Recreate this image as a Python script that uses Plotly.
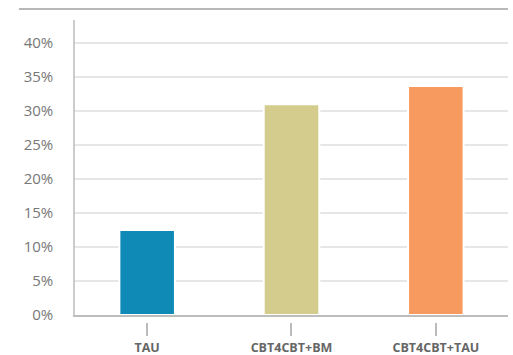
import plotly.graph_objects as go

categories = ["TAU", "CBT4CBT+BM", "CBT4CBT+TAU"]
values = [0.125, 0.310, 0.337]
colors = ["#0f89b5", "#d3cc8d", "#f79a5f"]
y_ticks = [0, 0.05, 0.10, 0.15, 0.20, 0.25, 0.30, 0.35, 0.40]

ticktext = ["<b>%s</b>" % c for c in categories]
x_dom = [0.1145, 1]

fig = go.Figure()
fig.add_trace(go.Bar(
    x=categories, y=values,
    marker=dict(color=colors, line=dict(color="white", width=2)),
    width=0.385, hoverinfo="x+y",
))
# invisible helper traces so the tick-mark axis and the top rule are drawn
fig.add_trace(go.Scatter(
    x=[0, 1, 2], y=[0, 0, 0], xaxis="x2", yaxis="y",
    mode="markers", marker=dict(opacity=0), hoverinfo="skip",
))
fig.add_trace(go.Scatter(
    x=[0, 1], y=[0, 0], xaxis="x3", yaxis="y3",
    mode="markers", marker=dict(opacity=0), hoverinfo="skip",
))

fig.update_layout(
    width=513, height=355,
    margin=dict(l=19, r=5, t=9, b=33, autoexpand=False),
    paper_bgcolor="white", plot_bgcolor="rgba(0,0,0,0)",
    showlegend=False,
    font=dict(family="Open Sans, sans-serif", color="#777777"),
    xaxis=dict(
        domain=x_dom,
        tickvals=categories, ticktext=ticktext,
        tickfont=dict(size=12.5, color="#666666"),
        showline=True, linecolor="#bdbdbd", linewidth=2,
        showgrid=False, ticks="", ticklabelstandoff=20,
        range=[-0.5, 2.5], automargin=False,
    ),
    xaxis2=dict(
        domain=x_dom, overlaying="x", anchor="free", position=0,
        range=[-0.5, 2.5], tickvals=[0, 1, 2],
        showticklabels=False, showgrid=False, showline=False, zeroline=False,
        ticks="outside", ticklen=13, tickwidth=1.5, tickcolor="#bbbbbb",
        automargin=False,
    ),
    xaxis3=dict(
        domain=[0, 1], anchor="free", position=1,
        range=[0, 1], showticklabels=False, showgrid=False, zeroline=False,
        showline=True, linecolor="#b8b8b8", linewidth=1.5, ticks="",
        automargin=False,
    ),
    yaxis3=dict(
        domain=[0.98, 1], anchor="x3", visible=False, range=[0, 1],
        showgrid=False, zeroline=False, automargin=False,
    ),
    yaxis=dict(
        domain=[0.0224, 0.9649],
        range=[0, 0.434], tickvals=y_ticks, tickformat=".0%",
        tickfont=dict(size=15, color="#777777"),
        showgrid=True, gridcolor="#e6e6e6", gridwidth=1.5,
        showline=True, linecolor="#cccccc", linewidth=1.5,
        zeroline=False, ticks="", ticklabelstandoff=17, automargin=False,
    ),
)

fig.write_html("out.html")
